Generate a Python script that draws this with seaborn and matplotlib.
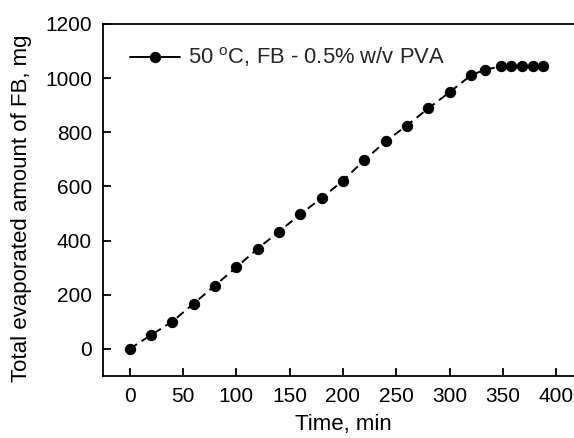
import matplotlib
matplotlib.use("Agg")
import matplotlib.pyplot as plt
import seaborn as sns
import pandas as pd

# Evaporation time course at 50 °C (FB with 0.5% w/v PVA)
time_min = [0, 20, 40, 60, 80, 100, 120, 140, 160, 180, 200, 220, 240, 260,
            280, 300, 320, 333, 348, 358, 368, 378, 388]
evaporated_mg = [0, 51, 101, 167, 234, 301, 370, 433, 497, 557, 621, 697, 766,
                 825, 888, 948, 1010, 1031, 1043, 1043, 1044, 1045, 1046]
series_label = r"50 $^{\mathrm{o}}$C, FB - 0.5% w/v PVA"
x_ticks = [0, 50, 100, 150, 200, 250, 300, 350, 400]
y_ticks = [0, 200, 400, 600, 800, 1000, 1200]

sns.set_theme(style="ticks")
plt.rcParams["font.family"] = ["Liberation Sans", "DejaVu Sans"]
plt.rcParams["mathtext.fontset"] = "custom"
plt.rcParams["mathtext.rm"] = "Liberation Sans"
plt.rcParams["axes.linewidth"] = 1.3
plt.rcParams["xtick.direction"] = "in"
plt.rcParams["ytick.direction"] = "in"

df = pd.DataFrame({"time": time_min, "amount": evaporated_mg,
                   "series": series_label})

fig = plt.figure(figsize=(5.74, 4.38), dpi=100)
ax = fig.add_axes([0.1794, 0.1416, 0.836, 0.8037])

sns.lineplot(data=df, x="time", y="amount", hue="series",
             palette=["black"], marker="o", markersize=7.4,
             markeredgecolor="black", linewidth=1.4,
             dashes=False, ax=ax, legend=True)
for line in ax.get_lines():
    line.set_linestyle((0, (4.5, 2.8)))

ax.set_xlim(-25, 425)
ax.set_ylim(-100, 1200)
ax.set_xticks(x_ticks)
ax.set_yticks(y_ticks)
ax.tick_params(axis="both", labelsize=15, length=6, width=1.3, color="black",
               labelcolor="black")
ax.tick_params(axis="x", pad=8)
ax.tick_params(axis="y", pad=8)
ax.set_xlabel("Time, min", fontsize=16, color="black", labelpad=6)
ax.set_ylabel("Total evaporated amount of FB, mg", fontsize=16,
              color="black")
ax.yaxis.set_label_coords(-0.148, 0.476)
for s in ax.spines.values():
    s.set_color("black")
    s.set_visible(True)

handles, labels = ax.get_legend_handles_labels()
for h in handles:
    h.set_linestyle("-")
ax.legend(handles, labels, loc="center left", bbox_to_anchor=(0.056, 0.905),
          frameon=False, fontsize=15.8, handlelength=2.3, handletextpad=0.35,
          borderpad=0, borderaxespad=0)

fig.savefig("out.png", dpi=100)
